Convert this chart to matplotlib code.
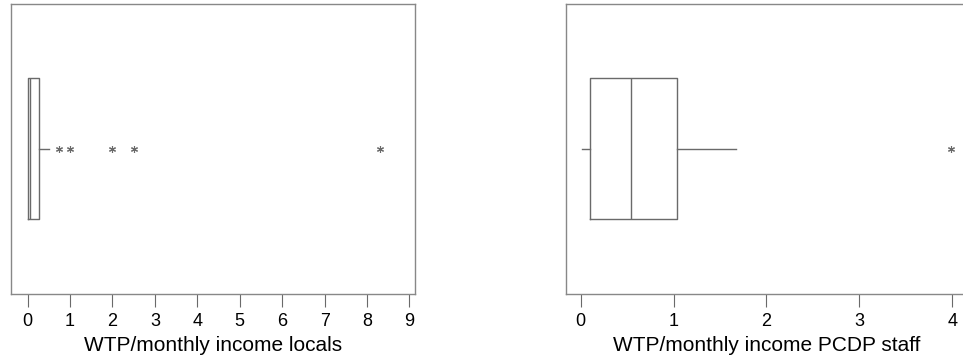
import matplotlib.pyplot as plt

plt.rcParams['font.family'] = ['Liberation Sans', 'DejaVu Sans']

# box statistics
labels = ['WTP/monthly income locals', 'WTP/monthly income PCDP staff']
whislo = [0.02, 0.01]
q1 = [0.02, 0.10]
med = [0.05, 0.54]
q3 = [0.27, 1.035]
whishi = [0.50, 1.67]
fliers = [[0.75, 1.0, 2.0, 2.5, 8.3], [3.99]]
xticks = [list(range(0, 10)), list(range(0, 5))]
xlims = [(-0.4, 9.12), (-0.16, 4.16)]
positions = [[0.011, 0.179, 0.4195, 0.81], [0.5877, 0.179, 0.4165, 0.81]]

grey = '#6a6a6a'
fig = plt.figure(figsize=(9.63, 3.58), dpi=100)

for i in range(2):
    ax = fig.add_axes(positions[i])
    stats = [dict(whislo=whislo[i], q1=q1[i], med=med[i], q3=q3[i],
                  whishi=whishi[i], fliers=fliers[i])]
    ax.bxp(stats, positions=[1], widths=0.525, orientation='horizontal',
           showcaps=False,
           boxprops=dict(color=grey, lw=1),
           medianprops=dict(color=grey, lw=1),
           whiskerprops=dict(color=grey, lw=1, ls='-'),
           flierprops=dict(marker=(6, 2, 0), markersize=5, markeredgecolor=grey,
                           markerfacecolor=grey, markeredgewidth=0.8))
    ax.set_ylim(0.46, 1.54)
    ax.set_xlim(*xlims[i])
    ax.set_yticks([])
    ax.set_xticks(xticks[i])
    ax.tick_params(axis='x', length=9, width=0.8, color=grey, labelsize=13,
                   pad=5)
    for s in ax.spines.values():
        s.set_color('#888888')
        s.set_linewidth(1)
    ax.set_xlabel(labels[i], fontsize=15, labelpad=4)

plt.savefig('out.png', dpi=100)
